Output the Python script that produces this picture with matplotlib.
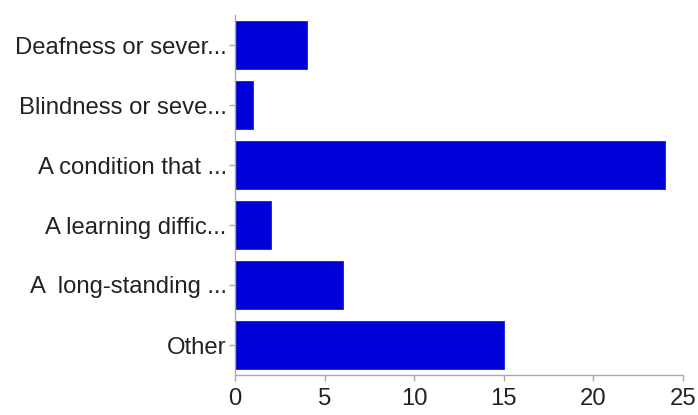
import matplotlib
matplotlib.use("Agg")
import matplotlib.pyplot as plt

categories = ["Deafness or sever...", "Blindness or seve...", "A condition that ...",
              "A learning diffic...", "A  long-standing ...", "Other"]
values = [4, 1, 24, 2, 6, 15]
xticks = [0, 5, 10, 15, 20, 25]

plt.rcParams['font.family'] = ['Liberation Sans', 'DejaVu Sans']

fig = plt.figure(figsize=(6.98, 4.15), dpi=100)
ax = fig.add_axes([235/698, 40/415, 448/698, 360/415])
ypos = list(range(len(categories)))
ax.barh(ypos, values, height=0.8, color='#0000d8', edgecolor='#1a1ae6', linewidth=0.6)
ax.set_yticks(ypos)
ax.set_yticklabels(categories)
ax.set_ylim(len(categories) - 0.5, -0.5)
ax.set_xlim(0, 25)
ax.set_xticks(xticks)
ax.set_xticklabels([str(t) for t in xticks])
for s in ['top', 'right']:
    ax.spines[s].set_visible(False)
for s in ['left', 'bottom']:
    ax.spines[s].set_color('#aaaaaa')
    ax.spines[s].set_linewidth(1.0)
ax.tick_params(axis='both', colors='#aaaaaa', labelcolor='#222222', labelsize=17.2, length=4, width=1)
ax.tick_params(axis='x', pad=5)
ax.tick_params(axis='y', pad=2)
fig.savefig('out.png', dpi=100)
